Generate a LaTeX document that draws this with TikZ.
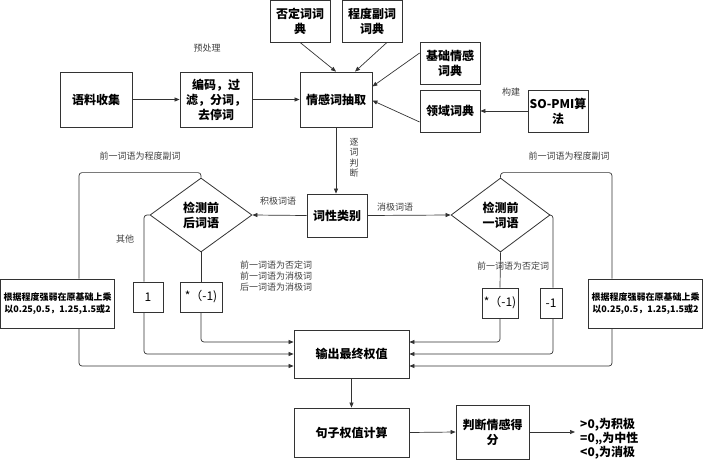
\documentclass[tikz,border=0pt]{standalone}
\usepackage{fontspec}
\setmainfont{Noto Sans CJK SC}
\usetikzlibrary{shapes.geometric,arrows.meta,calc}
\begin{document}
\begin{tikzpicture}[x=1pt,y=-1pt,
  box/.style={draw=black!80,line width=0.8pt,font=\fontsize{12}{15}\selectfont\bfseries,align=center,inner sep=0pt},
  plainbox/.style={draw=black!80,line width=0.8pt,font=\fontsize{12}{15}\selectfont,align=center,inner sep=0pt},
  dia/.style={draw=black!80,line width=0.8pt,diamond,font=\fontsize{12}{15}\selectfont\bfseries,align=center,inner sep=0pt},
  lbl/.style={font=\fontsize{9}{11}\selectfont,text=black!75,inner sep=0pt,align=left},
  conn/.style={draw=black!80,line width=0.7pt,rounded corners=3pt},
  arr/.style={conn,-{Triangle[length=5pt,width=4pt]}}
]
\useasboundingbox (0,0) rectangle (703,460);

% nodes
\node[box,minimum width=60pt,minimum height=42pt] (neg) at (300,21) {否定词词\\典};
\node[box,minimum width=60pt,minimum height=42pt] (deg) at (372,21) {程度副词\\词典};
\node[box,minimum width=60pt,minimum height=42pt] (base) at (450,63) {基础情感\\词典};
\node[box,minimum width=60pt,minimum height=42pt] (dom) at (450,111) {领域词典};
\node[box,minimum width=60pt,minimum height=42pt] (pmi) at (558,111) {SO-PMI算\\法};
\node[box,minimum width=72pt,minimum height=55pt] (corpus) at (96,99.5) {语料收集};
\node[box,minimum width=72pt,minimum height=55pt] (pre) at (216,99.5) {编码，过\\滤，分词，\\去停词};
\node[box,minimum width=72pt,minimum height=55pt] (extract) at (336,99.5) {情感词抽取};
\node[box,minimum width=60pt,minimum height=43pt] (pos) at (337,215.5) {词性类别};
\node[dia,minimum width=102pt,minimum height=74pt] (dL) at (201,215) {检测前\\后词语};
\node[dia,minimum width=99pt,minimum height=74pt] (dR) at (500.5,215) {检测前\\一词语};
\node[box,minimum width=114pt,minimum height=49pt,font=\fontsize{9}{12}\selectfont\bfseries] (bigL) at (57.5,303.5) {根据程度强弱在原基础上乘\\以0.25,0.5，1.25,1.5或2};
\node[box,minimum width=114pt,minimum height=49pt,font=\fontsize{9}{12}\selectfont\bfseries] (bigR) at (645.5,303.5) {根据程度强弱在原基础上乘\\以0.25,0.5，1.25,1.5或2};
\node[plainbox,minimum width=30pt,minimum height=30pt] (one) at (148,297) {1};
\node[plainbox,minimum width=42pt,minimum height=30pt] (mL) at (201,297) {*（-1)};
\node[plainbox,minimum width=36pt,minimum height=30pt] (mR) at (500,303) {*（-1)};
\node[plainbox,minimum width=22pt,minimum height=30pt] (mone) at (551,303) {-1};
\node[box,minimum width=115pt,minimum height=48pt] (out) at (351.5,354) {输出最终权值};
\node[box,minimum width=115pt,minimum height=49pt] (sent) at (351.5,432.5) {句子权值计算};
\node[box,minimum width=73pt,minimum height=54pt] (judge) at (492.5,432) {判断情感得\\分};
\node[font=\fontsize{12}{14}\selectfont\bfseries,align=left,anchor=west,inner sep=0pt] (res) at (580,439) {>0,为积极\\=0,,为中性\\<0,为消极};

% helper coordinates
\coordinate (cL) at (79,0);
\coordinate (cR) at (612,0);
\coordinate (c1) at (144,0);
\coordinate (cm1) at (553,0);

% labels
\node[lbl] (l1) at (207,48) {预处理};
\node[lbl] (l2) at (511,92) {构建};
\node[lbl,align=center,font=\fontsize{9}{10.5}\selectfont] (l3) at (354,158) {逐\\词\\判\\断};
\node[lbl] (l4) at (140,156) {前一词语为程度副词};
\node[lbl] (l5) at (569,156) {前一词语为程度副词};
\node[lbl] (l6) at (278,201) {积极词语};
\node[lbl] (l7) at (395,207) {消极词语};
\node[lbl] (l8) at (125,239) {其他};
\node[lbl,anchor=west] (l9) at (240,276) {前一词语为否定词\\前一词语为消极词\\后一词语为消极词};
\node[lbl] (l10) at (513,266) {前一词语为否定词};

% connectors top
\draw[arr] (neg.south) -- (extract.north);
\draw[arr] ($(deg.south)+(15,0)$) -- ($(extract.north)+(19,0)$);
\draw[arr] ($(base.west)+(0,-10)$) -- ($(extract.east)+(0,-13)$);
\draw[arr] ($(dom.west)+(0,11)$) -- ($(extract.east)+(0,1)$);
\draw[arr] (pmi.west) -- (dom.east);
\draw[arr] (corpus.east) -- (pre.west);
\draw[arr] (pre.east) -- (extract.west);
\draw[arr] (extract.south) -- (pos.north -| extract.south);
\draw[arr] (pos.west) -- (dL.east);
\draw[arr] (pos.east) -- (dR.west);

% left branch
\draw[conn] (dL.north) -- ($(dL.north)+(0,-5)$) -| (bigL.north -| cL);
\draw[conn] (dL.west) -| (one.north -| c1);
\draw[conn] (dL.south) -- (mL.north);
% right branch
\draw[conn] (dR.north) -- ($(dR.north)+(0,-5)$) -| (bigR.north -| cR);
\draw[conn] (dR.east) -| (mone.north -| cm1);
\draw[conn] (dR.south) -- (mR.north);

% into output
\draw[arr] (mL.south) |- ($(out.west)+(0,-12)$);
\draw[arr] (one.south -| c1) |- (out.west);
\draw[arr] (bigL.south -| cL) |- ($(out.west)+(0,12)$);
\draw[arr] (mR.south) |- ($(out.east)+(0,-12)$);
\draw[arr] (mone.south -| cm1) |- (out.east);
\draw[arr] (bigR.south -| cR) |- ($(out.east)+(0,12)$);

% bottom chain
\draw[arr] (out.south) -- (sent.north);
\draw[arr] (sent.east) -- (judge.west);
\draw[arr] (judge.east) -- ($(res.west)+(-5,-7)$);
\end{tikzpicture}
\end{document}
